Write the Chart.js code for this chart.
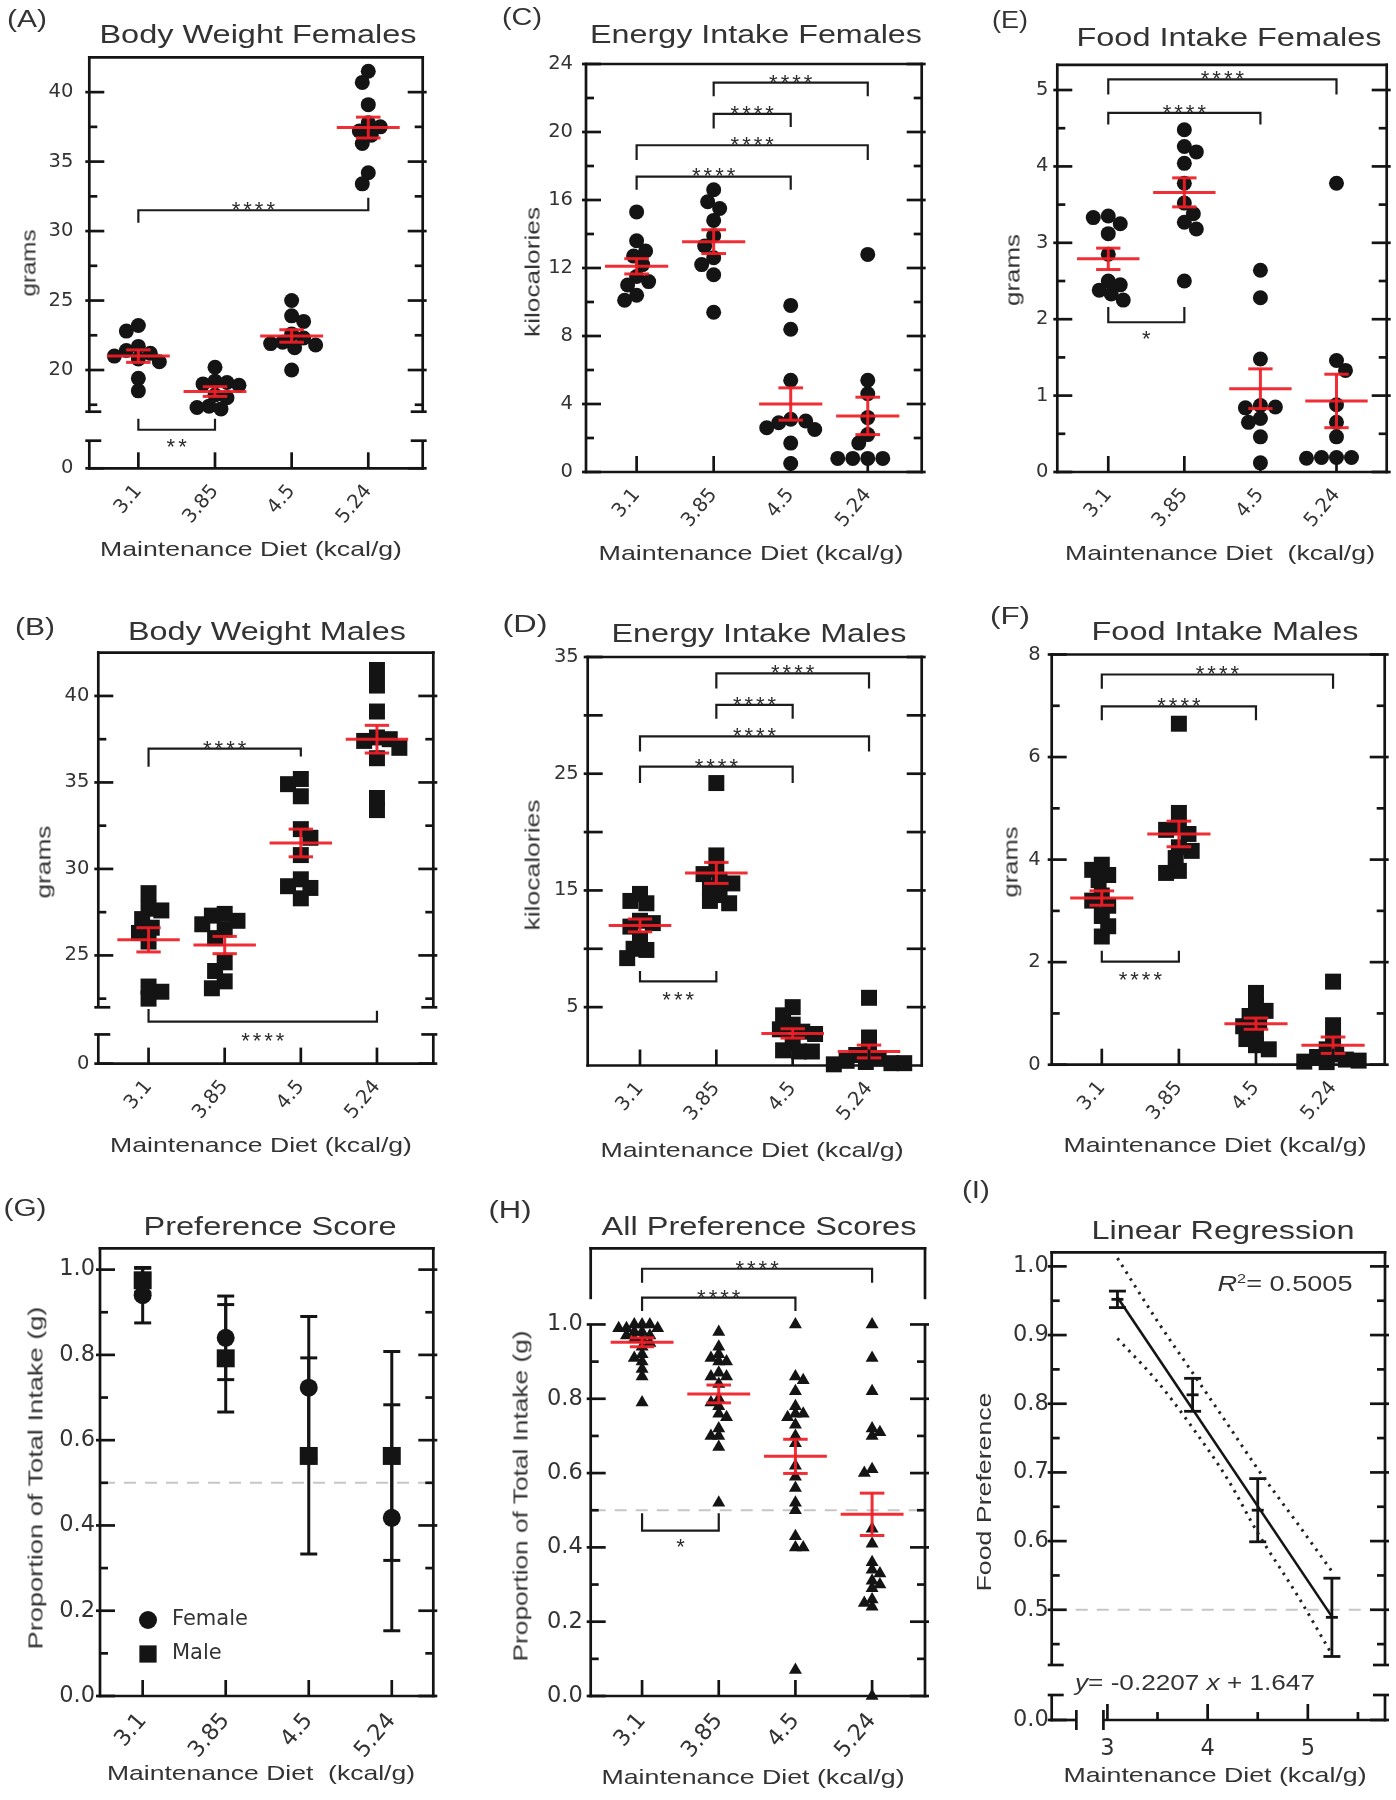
<!DOCTYPE html>
<html>
<head>
<meta charset="utf-8">
<script src="https://cdn.jsdelivr.net/npm/chart.js@4.4.1/dist/chart.umd.min.js"></script>
<style>
html,body{margin:0;padding:0;background:#fff;}
#wrap{position:relative;width:1396px;height:1800px;overflow:hidden;background:#fff;}
#wrap canvas{position:absolute;}
.t{position:absolute;white-space:nowrap;line-height:1;color:#333;font-family:'Liberation Sans',Arial,sans-serif;transform-origin:50% 50%;}
.t sup{font-size:0.6em;vertical-align:0.6em;line-height:0;}
</style>
</head>
<body>
<div id="wrap"></div>
<script>
// ================= DATA =================
const dietLabels = ['3.1', '3.85', '4.5', '5.24'];
const dietKcal = [3.1, 3.85, 4.5, 5.24];

// (A) Body Weight Females (grams)
const bodyWeightFemales = [
  [23.2, 22.8, 21.7, 21.4, 21.2, 21.0, 20.8, 20.6, 19.4, 18.5],
  [20.2, 19.2, 19.1, 19.0, 18.9, 18.2, 18.0, 17.4, 17.3, 17.2],
  [25.0, 23.9, 23.5, 22.6, 22.3, 22.0, 21.9, 21.8, 21.6, 20.0],
  [41.5, 40.7, 39.1, 37.8, 37.5, 37.2, 36.9, 36.3, 34.2, 33.4]
];
const bodyWeightFemalesMean = [21.0, 18.45, 22.45, 37.45];
const bodyWeightFemalesSEM = [0.45, 0.35, 0.45, 0.75];

// (B) Body Weight Males (grams)
const bodyWeightMales = [
  [28.6, 27.7, 27.6, 27.1, 26.6, 26.3, 25.8, 23.2, 22.9, 22.5],
  [27.4, 27.3, 27.0, 26.8, 26.5, 26.0, 24.6, 24.1, 23.5, 23.1],
  [35.2, 34.9, 34.2, 32.3, 31.8, 30.8, 29.4, 29.0, 28.9, 28.3],
  [41.5, 40.6, 39.1, 37.6, 37.5, 37.4, 37.0, 36.4, 34.1, 33.4]
];
const bodyWeightMalesMean = [25.9, 25.6, 31.5, 37.5];
const bodyWeightMalesSEM = [0.7, 0.5, 0.8, 0.8];

// (C) Energy Intake Females (kilocalories)
const energyIntakeFemales = [
  [15.3, 13.6, 13.0, 12.7, 12.2, 11.5, 11.2, 11.0, 10.4, 10.1],
  [16.6, 15.9, 15.5, 14.8, 13.9, 13.3, 12.6, 12.2, 11.6, 9.4],
  [9.8, 8.4, 5.4, 3.1, 3.0, 2.9, 2.6, 2.5, 1.7, 0.5],
  [12.8, 5.4, 4.6, 3.2, 2.2, 1.7, 0.8, 0.8, 0.8, 0.8]
];
const energyIntakeFemalesMean = [12.1, 13.55, 4.0, 3.3];
const energyIntakeFemalesSEM = [0.45, 0.7, 0.95, 1.1];

// (D) Energy Intake Males (kilocalories)
const energyIntakeMales = [
  [14.7, 14.1, 13.9, 12.4, 12.2, 11.9, 10.8, 10.0, 9.9, 9.2],
  [24.2, 18.0, 16.8, 16.4, 15.9, 15.6, 15.2, 14.6, 14.1, 13.9],
  [5.0, 4.3, 3.5, 3.1, 2.9, 2.7, 2.0, 1.3, 1.2, 1.2],
  [5.8, 2.4, 1.2, 0.9, 0.6, 0.4, 0.3, 0.2, 0.2, 0.1]
];
const energyIntakeMalesMean = [12.0, 16.5, 2.75, 1.2];
const energyIntakeMalesSEM = [0.55, 0.9, 0.4, 0.55];

// (E) Food Intake Females (grams)
const foodIntakeFemales = [
  [3.35, 3.33, 3.25, 3.12, 2.85, 2.50, 2.45, 2.38, 2.33, 2.25],
  [4.48, 4.26, 4.19, 4.04, 3.78, 3.52, 3.38, 3.27, 3.18, 2.50],
  [2.64, 2.28, 1.48, 0.87, 0.85, 0.84, 0.70, 0.65, 0.46, 0.12],
  [3.78, 1.46, 1.33, 0.88, 0.65, 0.46, 0.19, 0.19, 0.19, 0.18]
];
const foodIntakeFemalesMean = [2.79, 3.66, 1.09, 0.93];
const foodIntakeFemalesSEM = [0.14, 0.19, 0.26, 0.35];

// (F) Food Intake Males (grams)
const foodIntakeMales = [
  [3.9, 3.8, 3.7, 3.6, 3.3, 3.2, 3.1, 2.9, 2.7, 2.5],
  [6.65, 4.91, 4.63, 4.58, 4.50, 4.24, 4.17, 4.03, 3.78, 3.74],
  [1.40, 1.15, 1.05, 0.95, 0.85, 0.75, 0.62, 0.50, 0.38, 0.30],
  [1.62, 0.77, 0.48, 0.30, 0.20, 0.15, 0.10, 0.08, 0.06, 0.05]
];
const foodIntakeMalesMean = [3.25, 4.5, 0.8, 0.38];
const foodIntakeMalesSEM = [0.14, 0.25, 0.11, 0.16];

// (G) Preference Score, mean and error by sex
const prefFemaleMean = [0.94, 0.84, 0.723, 0.418];
const prefFemaleErr = [0.065, 0.098, 0.167, 0.265];
const prefMaleMean = [0.975, 0.792, 0.563, 0.563];
const prefMaleErr = [0.028, 0.126, 0.23, 0.245];

// (H) All Preference Scores (proportion of total intake)
const allPreference = [
  [1.0, 1.0, 1.0, 0.99, 0.99, 0.99, 0.98, 0.98, 0.97, 0.97, 0.96, 0.96, 0.95, 0.94, 0.92, 0.91, 0.90, 0.88, 0.86, 0.79],
  [0.98, 0.94, 0.92, 0.91, 0.90, 0.90, 0.87, 0.86, 0.86, 0.84, 0.80, 0.79, 0.78, 0.76, 0.75, 0.72, 0.70, 0.70, 0.67, 0.52],
  [1.0, 0.86, 0.85, 0.82, 0.78, 0.76, 0.76, 0.75, 0.73, 0.70, 0.68, 0.62, 0.59, 0.56, 0.52, 0.50, 0.43, 0.40, 0.40, 0.07],
  [1.0, 0.91, 0.82, 0.72, 0.71, 0.70, 0.61, 0.60, 0.45, 0.41, 0.36, 0.34, 0.33, 0.31, 0.30, 0.29, 0.26, 0.25, 0.24, 0.0]
];
const allPreferenceMean = [0.952, 0.813, 0.645, 0.489];
const allPreferenceSEM = [0.012, 0.024, 0.046, 0.057];

// (I) Linear regression (fit line and its dotted confidence band)
const regressionX = [3.1, 5.24];
const regressionY = [0.955, 0.49];
const bandX = [3.1, 3.5, 3.85, 4.2, 4.5, 4.9, 5.24];
const bandUpper = [1.012, 0.92, 0.845, 0.77, 0.705, 0.625, 0.556];
const bandLower = [0.895, 0.832, 0.765, 0.69, 0.612, 0.52, 0.435];

// Tick values
const ticksA = {labels: [20, 25, 30, 35, 40], minor: [17.5, 22.5, 27.5, 32.5, 37.5]};
const ticksB = {labels: [25, 30, 35, 40], minor: [22.5, 27.5, 32.5, 37.5]};
const ticksC = {labels: [0, 4, 8, 12, 16, 20, 24], minor: [2, 6, 10, 14, 18, 22]};
const ticksD = {labels: [5, 15, 25, 35], major: [5, 10, 15, 20, 25, 30, 35], minor: []};
const ticksE = {labels: [0, 1, 2, 3, 4, 5], minor: [0.5, 1.5, 2.5, 3.5, 4.5]};
const ticksF = {labels: [0, 2, 4, 6, 8], minor: [1, 3, 5, 7]};
const ticksGH = {labels: [0, 0.2, 0.4, 0.6, 0.8, 1.0], minor: [0.1, 0.3, 0.5, 0.7, 0.9]};
const ticksI = {labels: [0.5, 0.6, 0.7, 0.8, 0.9, 1.0], minor: [0.45, 0.55, 0.65, 0.75, 0.85, 0.95]};
const ticksIx = {labels: [3, 4, 5], minor: [3.5, 4.5, 5.5]};

// Significance brackets (category from/to, bracket level, leg ends, label)
const bracketsA = [
  {from: 1, to: 4, y: 31.5, l: 30.6, r: 32.4, text: '****'},
  {from: 1, to: 2, y: 15.7, l: 16.5, r: 16.5, text: '**', below: 14.85}
];
const bracketsB = [
  {from: 1, to: 3, y: 36.95, l: 35.9, r: 36.5, text: '****'},
  {from: 1, to: 4, y: 21.17, l: 21.9, r: 21.8, text: '****', below: 20.4}
];
const bracketsC = [
  {from: 2, to: 4, y: 22.9, l: 22.1, r: 22.1, text: '****'},
  {from: 2, to: 3, y: 21.07, l: 20.2, r: 20.3, text: '****'},
  {from: 1, to: 4, y: 19.22, l: 18.35, r: 18.35, text: '****'},
  {from: 1, to: 3, y: 17.38, l: 16.6, r: 16.6, text: '****'}
];
const bracketsD = [
  {from: 2, to: 4, y: 33.6, l: 32.3, r: 32.3, text: '****'},
  {from: 2, to: 3, y: 30.9, l: 29.7, r: 29.7, text: '****'},
  {from: 1, to: 4, y: 28.2, l: 26.9, r: 26.9, text: '****'},
  {from: 1, to: 3, y: 25.6, l: 24.2, r: 24.2, text: '****'},
  {from: 1, to: 2, y: 7.2, l: 8.1, r: 8.1, text: '***', below: 6.1}
];
const bracketsE = [
  {from: 1, to: 4, y: 5.14, l: 4.94, r: 4.94, text: '****'},
  {from: 1, to: 3, y: 4.70, l: 4.55, r: 4.55, text: '****'},
  {from: 1, to: 2, y: 1.96, l: 2.16, r: 2.16, text: '*', below: 1.82}
];
const bracketsF = [
  {from: 1, to: 4, y: 7.61, l: 7.33, r: 7.33, text: '****'},
  {from: 1, to: 3, y: 6.99, l: 6.72, r: 6.72, text: '****'},
  {from: 1, to: 2, y: 2.01, l: 2.22, r: 2.22, text: '****', below: 1.76}
];
const bracketsH = [
  {from: 1, to: 4, y: 1.150, l: 1.112, r: 1.112, text: '****'},
  {from: 1, to: 3, y: 1.072, l: 1.036, r: 1.036, text: '****'},
  {from: 1, to: 2, y: 0.445, l: 0.492, r: 0.492, text: '*', below: 0.416}
];

// ================= STYLE =================
const INK = '#141414';
const TXT = '#333333';
const RED = 'rgba(238,30,38,0.93)';
const GREY = '#c6c6c6';
const LW = 2.7;
const F12 = {family: 'DejaVu Sans', size: 19.5};
const F3 = {family: 'DejaVu Sans', size: 22.5};
const fmtInt = v => String(Math.round(v));
const fmt1 = v => Number(v).toFixed(1);

Chart.defaults.animation = false;

const wrap = document.getElementById('wrap');
const PANELS = {};

function swarmDataset(groups, style, r) {
  return [{
    data: groups.flatMap((g, i) => g.map(v => ({x: i + 1, y: v}))),
    pointStyle: style, pointRadius: r, pointHoverRadius: r,
    pointBackgroundColor: INK, pointBorderColor: INK, pointBorderWidth: 0,
    clip: false
  }];
}

function line(ctx, x1, y1, x2, y2) {
  ctx.beginPath(); ctx.moveTo(x1, y1); ctx.lineTo(x2, y2); ctx.stroke();
}

function drawErr(ctx, xs, ys, eb) {
  ctx.strokeStyle = INK; ctx.lineWidth = eb.lw || 3; ctx.setLineDash([]);
  eb.x.forEach((xv, i) => {
    const px = xs.getPixelForValue(xv);
    const yt = ys.getPixelForValue(eb.mean[i] + eb.err[i]);
    const yb = ys.getPixelForValue(eb.mean[i] - eb.err[i]);
    line(ctx, px, yt, px, yb);
    line(ctx, px - eb.cap, yt, px + eb.cap, yt);
    line(ctx, px - eb.cap, yb, px + eb.cap, yb);
    if (eb.dash) {
      const ym = ys.getPixelForValue(eb.mean[i]);
      line(ctx, px - eb.dash, ym, px + eb.dash, ym);
    }
  });
}

const panelPlugin = {
  id: 'panelPlugin',
  beforeDatasetsDraw(chart) {
    const S = PANELS[chart.canvas.id]; if (!S) return;
    const ctx = chart.ctx, ca = chart.chartArea, xs = chart.scales.x, ys = chart.scales.y;
    ctx.save();
    if (S.refLine != null) {
      const y = ys.getPixelForValue(S.refLine);
      ctx.strokeStyle = GREY; ctx.lineWidth = 2; ctx.setLineDash([12, 9]);
      line(ctx, ca.left + 3, y, ca.right - 3, y);
      ctx.setLineDash([]);
    }
    if (S.errBars) S.errBars.forEach(eb => drawErr(ctx, xs, ys, eb));
    ctx.restore();
  },
  afterDatasetsDraw(chart) {
    const S = PANELS[chart.canvas.id]; if (!S || !S.meanSem) return;
    const ctx = chart.ctx, xs = chart.scales.x, ys = chart.scales.y;
    ctx.save();
    ctx.strokeStyle = RED; ctx.lineWidth = 3; ctx.lineCap = 'butt';
    S.meanSem.mean.forEach((m, i) => {
      const cx = xs.getPixelForValue(i + 1);
      const half = xs.getPixelForValue(i + 1.41) - cx;
      const cap = xs.getPixelForValue(i + 1.16) - cx;
      const ym = ys.getPixelForValue(m);
      const yt = ys.getPixelForValue(m + S.meanSem.sem[i]);
      const yb = ys.getPixelForValue(m - S.meanSem.sem[i]);
      line(ctx, cx - half, ym, cx + half, ym);
      line(ctx, cx, yt, cx, yb);
      line(ctx, cx - cap, yt, cx + cap, yt);
      line(ctx, cx - cap, yb, cx + cap, yb);
    });
    ctx.restore();
  },
  afterDraw(chart) {
    const S = PANELS[chart.canvas.id]; if (!S) return;
    const ctx = chart.ctx, ca = chart.chartArea, xs = chart.scales.x, ys = chart.scales.y;
    const L = ca.left, R = ca.right, T = ca.top, B = ca.bottom, h = LW / 2;
    ctx.save();
    ctx.strokeStyle = INK; ctx.lineWidth = LW; ctx.lineCap = 'butt'; ctx.setLineDash([]);
    // frame: top
    line(ctx, L - h, T, R + h, T);
    // frame: sides (with breaks)
    let vs;
    if (S.yLow) {
      const ub = ys.bottom;
      const lt = chart.scales.yLow.getPixelForValue(S.yLow.frameTop);
      vs = [[T - h, ub, 0, 1], [lt, B + h, 1, 0]];
    } else if (S.hBreak) {
      vs = [[T - h, ys.getPixelForValue(S.hBreak.upperEnd), 0, 0],
            [ys.getPixelForValue(S.hBreak.lowerStart), B + h, 0, 0]];
    } else {
      vs = [[T - h, B + h, 0, 0]];
    }
    vs.forEach(([a, b, capA, capB]) => {
      line(ctx, L, a, L, b); line(ctx, R, a, R, b);
      if (capA) { line(ctx, L - 4, a, L + 12, a); line(ctx, R + 4, a, R - 12, a); }
      if (capB) { line(ctx, L - 4, b, L + 12, b); line(ctx, R + 4, b, R - 12, b); }
    });
    // frame: bottom
    if (S.xBreak) {
      const e = xs.getPixelForValue(S.xBreak.leftEnd), s = xs.getPixelForValue(S.xBreak.rightStart);
      line(ctx, L - h, B, e, B); line(ctx, e, B - 10, e, B + 10);
      line(ctx, s, B, R + h, B); line(ctx, s, B - 10, s, B + 10);
    } else {
      line(ctx, L - h, B, R + h, B);
    }
    // y ticks (inward, both sides)
    const yTick = (sc, majors, minors) => {
      majors.forEach(v => { const y = sc.getPixelForValue(v); line(ctx, L - 4, y, L + 15, y); line(ctx, R + 4, y, R - 15, y); });
      minors.forEach(v => { const y = sc.getPixelForValue(v); line(ctx, L, y, L + 8, y); line(ctx, R, y, R - 8, y); });
    };
    yTick(ys, S.y.major || S.y.labels, S.y.minor || []);
    if (S.yLow) yTick(chart.scales.yLow, S.yLow.labels, []);
    // x ticks (upward)
    S.x.ticks.forEach(v => { const x = xs.getPixelForValue(v); line(ctx, x, B, x, B - 16); });
    (S.x.minor || []).forEach(v => { const x = xs.getPixelForValue(v); line(ctx, x, B, x, B - 8); });
    // significance brackets
    if (S.brackets) {
      ctx.lineWidth = 2.2; ctx.strokeStyle = '#1c1c1c';
      ctx.fillStyle = '#2a2a2a';
      ctx.font = '22px "Liberation Sans"';
      ctx.textAlign = 'center'; ctx.textBaseline = 'alphabetic';
      try { ctx.letterSpacing = '3px'; } catch (e) {}
      S.brackets.forEach(b => {
        const x1 = xs.getPixelForValue(b.from), x2 = xs.getPixelForValue(b.to);
        const y = ys.getPixelForValue(b.y);
        ctx.beginPath();
        ctx.moveTo(x1, ys.getPixelForValue(b.l)); ctx.lineTo(x1, y);
        ctx.lineTo(x2, y); ctx.lineTo(x2, ys.getPixelForValue(b.r));
        ctx.stroke();
        const cy = b.below != null ? ys.getPixelForValue(b.below) : y - 6;
        ctx.fillText(b.text, (x1 + x2) / 2 + 1.5, cy + 12.8);
      });
      try { ctx.letterSpacing = '0px'; } catch (e) {}
    }
    // legend (panel G)
    if (S.legend) {
      ctx.fillStyle = INK; ctx.strokeStyle = INK;
      ctx.font = '21px "DejaVu Sans"'; ctx.textAlign = 'left'; ctx.textBaseline = 'middle';
      S.legend.forEach(it => {
        const mx = L + it.dx, my = B - it.dy;
        Chart.helpers.drawPoint(ctx, {pointStyle: it.style, radius: it.r, borderWidth: 0, rotation: 0}, mx, my);
        ctx.fillStyle = TXT;
        ctx.fillText(it.text, L + it.tx, my);
        ctx.fillStyle = INK;
      });
    }
    ctx.restore();
  }
};

function buildChart(S) {
  const [cx, cy, cw, ch] = S.canvas;
  const p = S.plot;
  const cv = document.createElement('canvas');
  cv.id = S.id; cv.width = cw; cv.height = ch;
  cv.style.left = cx + 'px'; cv.style.top = cy + 'px';
  cv.style.width = cw + 'px'; cv.style.height = ch + 'px';
  wrap.appendChild(cv);
  PANELS[S.id] = S;
  const yW = p.L - cx, xH = cy + ch - p.B;
  const noGrid = {display: false, drawTicks: false};
  const noBorder = {display: false};
  const scales = {
    x: {
      type: 'linear', position: 'bottom', min: S.x.min, max: S.x.max,
      grid: noGrid, border: noBorder,
      afterBuildTicks: s => { s.ticks = S.x.ticks.map(v => ({value: v})); },
      afterFit: s => { s.height = xH; },
      ticks: {
        autoSkip: false, minRotation: S.x.rot, maxRotation: S.x.rot,
        padding: S.x.pad, labelOffset: S.x.off || 0, color: TXT, font: S.font,
        callback: v => S.x.labels ? S.x.labels[Math.round(v) - 1] : String(v)
      }
    },
    y: {
      type: 'linear', position: 'left', min: S.y.min, max: S.y.max,
      grid: noGrid, border: noBorder,
      afterBuildTicks: s => { s.ticks = S.y.labels.map(v => ({value: v})); },
      afterFit: s => { s.width = yW; },
      ticks: {padding: S.y.pad, color: TXT, font: S.font, callback: v => S.y.fmt(v)}
    }
  };
  if (S.yLow) {
    const ub = S.yLow.upperBottom;
    Object.assign(scales.y, {stack: 'ystack', stackWeight: ub - p.T, weight: 2});
    scales.yLow = {
      type: 'linear', position: 'left', min: 0, max: S.yLow.max,
      stack: 'ystack', stackWeight: p.B - ub, weight: 1,
      grid: noGrid, border: noBorder,
      afterBuildTicks: s => { s.ticks = S.yLow.labels.map(v => ({value: v})); },
      afterFit: s => { s.width = yW; },
      ticks: {padding: S.y.pad, color: TXT, font: S.font, callback: v => S.y.fmt(v)}
    };
  }
  const chart = new Chart(cv, {
    type: 'scatter',
    data: {datasets: S.datasets},
    options: {
      responsive: false, maintainAspectRatio: false, animation: false, devicePixelRatio: 1,
      layout: {padding: {left: 0, top: p.T - cy, right: cx + cw - p.R, bottom: 0}},
      plugins: {legend: {display: false}, tooltip: {enabled: false}, title: {display: false}},
      events: [],
      scales
    },
    plugins: [panelPlugin]
  });
  if (S.swarm) applySwarm(chart, S);
  return chart;
}

// beeswarm layout: spreads points of one group sideways so they do not overlap too much
function applySwarm(chart, S) {
  const xs = chart.scales.x, ys = chart.scales.y;
  const D = S.swarm.diam, minD = D * S.swarm.k, step = D * 0.2;
  const out = [];
  S.swarm.groups.forEach((vals, gi) => {
    const cx = xs.getPixelForValue(gi + 1);
    const placed = [];
    vals.forEach((v, vi) => {
      const py = ys.getPixelForValue(v);
      const dir = vi % 2 === 0 ? 1 : -1;
      let off = 0;
      for (let k = 0; k < 400; k++) {
        const cand = k === 0 ? 0 : (k % 2 === 1 ? dir : -dir) * Math.ceil(k / 2) * step;
        const ok = placed.every(q => { const dx = cand - q.o, dy = py - q.y; return dx * dx + dy * dy >= minD * minD; });
        if (ok) { off = cand; break; }
      }
      placed.push({o: off, y: py});
      out.push({x: xs.getValueForPixel(cx + off), y: v});
    });
  });
  chart.data.datasets[0].data = out;
  chart.update('none');
}

// ================= PANELS =================
const specs = [
  { id: 'pA', canvas: [0, 0, 465, 590], plot: {L: 89.3, T: 57.4, R: 422.7, B: 468.3}, font: F12,
    x: {min: 0.36, max: 4.71, ticks: [1, 2, 3, 4], labels: dietLabels, rot: 50, pad: 12},
    y: {min: 17, max: 42.5, labels: ticksA.labels, minor: ticksA.minor, fmt: fmtInt, pad: 16},
    yLow: {max: 2.05, frameTop: 1, labels: [0], upperBottom: 411.7},
    datasets: swarmDataset(bodyWeightFemales, 'circle', 7.5),
    swarm: {groups: bodyWeightFemales, diam: 15, k: 0.8},
    meanSem: {mean: bodyWeightFemalesMean, sem: bodyWeightFemalesSEM}, brackets: bracketsA },
  { id: 'pC', canvas: [465, 0, 480, 590], plot: {L: 586, T: 64, R: 921.7, B: 472}, font: F12,
    x: {min: 0.343, max: 4.70, ticks: [1, 2, 3, 4], labels: dietLabels, rot: 50, pad: 12},
    y: {min: 0, max: 24, labels: ticksC.labels, minor: ticksC.minor, fmt: fmtInt, pad: 13},
    datasets: swarmDataset(energyIntakeFemales, 'circle', 7.5),
    swarm: {groups: energyIntakeFemales, diam: 15, k: 0.82},
    meanSem: {mean: energyIntakeFemalesMean, sem: energyIntakeFemalesSEM}, brackets: bracketsC },
  { id: 'pE', canvas: [945, 0, 451, 590], plot: {L: 1057.3, T: 64.8, R: 1386.7, B: 472}, font: F12,
    x: {min: 0.33, max: 4.66, ticks: [1, 2, 3, 4], labels: dietLabels, rot: 50, pad: 12},
    y: {min: 0, max: 5.33, labels: ticksE.labels, minor: ticksE.minor, fmt: fmtInt, pad: 9},
    datasets: swarmDataset(foodIntakeFemales, 'circle', 7.5),
    swarm: {groups: foodIntakeFemales, diam: 15, k: 0.82},
    meanSem: {mean: foodIntakeFemalesMean, sem: foodIntakeFemalesSEM}, brackets: bracketsE },
  { id: 'pB', canvas: [0, 590, 465, 580], plot: {L: 98.3, T: 652.7, R: 433.3, B: 1063.6}, font: F12,
    x: {min: 0.34, max: 4.74, ticks: [1, 2, 3, 4], labels: dietLabels, rot: 50, pad: 12},
    y: {min: 22, max: 42.5, labels: ticksB.labels, minor: ticksB.minor, fmt: fmtInt, pad: 9},
    yLow: {max: 1.93, frameTop: 1, labels: [0], upperBottom: 1007.3},
    datasets: swarmDataset(bodyWeightMales, 'rect', 11.3),
    swarm: {groups: bodyWeightMales, diam: 16, k: 0.75},
    meanSem: {mean: bodyWeightMalesMean, sem: bodyWeightMalesSEM}, brackets: bracketsB },
  { id: 'pD', canvas: [465, 590, 480, 580], plot: {L: 587.7, T: 657, R: 921.7, B: 1065.5}, font: F12,
    x: {min: 0.315, max: 4.69, ticks: [1, 2, 3, 4], labels: dietLabels, rot: 50, pad: 12},
    y: {min: 0, max: 35, labels: ticksD.labels, major: ticksD.major, minor: ticksD.minor, fmt: fmtInt, pad: 9},
    datasets: swarmDataset(energyIntakeMales, 'rect', 11.3),
    swarm: {groups: energyIntakeMales, diam: 16, k: 0.68},
    meanSem: {mean: energyIntakeMalesMean, sem: energyIntakeMalesSEM}, brackets: bracketsD },
  { id: 'pF', canvas: [945, 590, 451, 580], plot: {L: 1051.7, T: 654.5, R: 1385, B: 1064.7}, font: F12,
    x: {min: 0.35, max: 4.67, ticks: [1, 2, 3, 4], labels: dietLabels, rot: 50, pad: 12},
    y: {min: 0, max: 8, labels: ticksF.labels, minor: ticksF.minor, fmt: fmtInt, pad: 11},
    datasets: swarmDataset(foodIntakeMales, 'rect', 11.3),
    swarm: {groups: foodIntakeMales, diam: 16, k: 0.68},
    meanSem: {mean: foodIntakeMalesMean, sem: foodIntakeMalesSEM}, brackets: bracketsF },
  { id: 'pG', canvas: [0, 1170, 465, 630], plot: {L: 100, T: 1248.3, R: 433.3, B: 1696}, font: F3,
    x: {min: 0.486, max: 4.5, ticks: [1, 2, 3, 4], labels: dietLabels, rot: 50, pad: 12},
    y: {min: 0, max: 1.05, labels: ticksGH.labels, minor: ticksGH.minor, fmt: fmt1, pad: 5},
    datasets: [
      {data: prefFemaleMean.map((v, i) => ({x: i + 1, y: v})), pointStyle: 'circle', pointRadius: 9,
       pointBackgroundColor: INK, pointBorderWidth: 0, clip: false},
      {data: prefMaleMean.map((v, i) => ({x: i + 1, y: v})), pointStyle: 'rect', pointRadius: 12.7,
       pointBackgroundColor: INK, pointBorderWidth: 0, clip: false}
    ],
    errBars: [
      {x: [1, 2, 3, 4], mean: prefFemaleMean, err: prefFemaleErr, cap: 8.5, lw: 3},
      {x: [1, 2, 3, 4], mean: prefMaleMean, err: prefMaleErr, cap: 8.5, lw: 3}
    ],
    refLine: 0.5,
    legend: [
      {style: 'circle', r: 9, text: 'Female', dx: 48, dy: 76, tx: 72},
      {style: 'rect', r: 12.2, text: 'Male', dx: 48, dy: 42, tx: 72}
    ] },
  { id: 'pH', canvas: [465, 1170, 480, 630], plot: {L: 590.7, T: 1248.3, R: 925, B: 1696}, font: F3,
    x: {min: 0.33, max: 4.69, ticks: [1, 2, 3, 4], labels: dietLabels, rot: 50, pad: 12},
    y: {min: 0, max: 1.205, labels: ticksGH.labels, minor: ticksGH.minor, fmt: fmt1, pad: 8},
    hBreak: {upperEnd: 1.068, lowerStart: 1.0},
    datasets: swarmDataset(allPreference, 'triangle', 7.5),
    swarm: {groups: allPreference, diam: 13, k: 0.55},
    meanSem: {mean: allPreferenceMean, sem: allPreferenceSEM}, brackets: bracketsH, refLine: 0.5 },
  { id: 'pI', canvas: [945, 1170, 451, 630], plot: {L: 1051.7, T: 1252.3, R: 1385, B: 1720}, font: F3,
    x: {min: 2.444, max: 5.77, ticks: ticksIx.labels, minor: ticksIx.minor, labels: null, rot: 0, pad: 16},
    y: {min: 0.4196, max: 1.0205, labels: ticksI.labels, minor: ticksI.minor, fmt: fmt1, pad: 3},
    yLow: {max: 2.2, frameTop: 1, labels: [0], upperBottom: 1665},
    xBreak: {leftEnd: 2.69, rightStart: 2.96},
    datasets: [
      {type: 'line', data: regressionX.map((x, i) => ({x, y: regressionY[i]})), borderColor: INK, borderWidth: 2.6, pointRadius: 0},
      {type: 'line', data: bandX.map((x, i) => ({x, y: bandUpper[i]})), borderColor: '#222', borderWidth: 3,
       borderDash: [2.5, 5.5], pointRadius: 0, cubicInterpolationMode: 'monotone'},
      {type: 'line', data: bandX.map((x, i) => ({x, y: bandLower[i]})), borderColor: '#222', borderWidth: 3,
       borderDash: [2.5, 5.5], pointRadius: 0, cubicInterpolationMode: 'monotone'}
    ],
    errBars: [{x: dietKcal, mean: allPreferenceMean, err: allPreferenceSEM, cap: 8.5, lw: 2.8, dash: 6}],
    refLine: 0.5 }
];

specs.forEach(buildChart);

// ================= TEXT (titles, axis titles, panel letters, annotations) =================
const TEXTS = [
  ['(A)', 27, 19, 40, 23, 0],
  ['Body Weight Females', 258, 34, 317, 25, 0],
  ['(C)', 522, 17, 40, 23, 0],
  ['Energy Intake Females', 756, 34, 332, 25, 0],
  ['(E)', 1010, 20, 36, 23, 0],
  ['Food Intake Females', 1229, 37, 305, 25, 0],
  ['grams', 28, 263, 67, 21, 1],
  ['kilocalories', 532, 272, 130, 21, 1],
  ['grams', 1012, 270, 72, 21, 1],
  ['Maintenance Diet (kcal/g)', 251, 548, 302, 21, 0],
  ['Maintenance Diet (kcal/g)', 751, 552, 305, 21, 0],
  ['Maintenance Diet&nbsp; (kcal/g)', 1220, 552, 310, 21, 0],
  ['(B)', 35, 627, 40, 23, 0],
  ['Body Weight Males', 267, 631, 278, 25, 0],
  ['(D)', 525, 624, 45, 23, 0],
  ['Energy Intake Males', 759, 633, 295, 25, 0],
  ['(F)', 1010, 616, 40, 23, 0],
  ['Food Intake Males', 1225, 631, 267, 25, 0],
  ['grams', 43, 862, 73, 21, 1],
  ['kilocalories', 532, 865, 131, 21, 1],
  ['grams', 1010, 862, 71, 21, 1],
  ['Maintenance Diet (kcal/g)', 261, 1144, 302, 21, 0],
  ['Maintenance Diet (kcal/g)', 752, 1149, 303, 21, 0],
  ['Maintenance Diet (kcal/g)', 1215, 1144, 303, 21, 0],
  ['(G)', 25, 1208, 43, 23, 0],
  ['Preference Score', 270, 1226, 253, 25, 0],
  ['(H)', 510, 1210, 43, 23, 0],
  ['All Preference Scores', 759, 1226, 315, 25, 0],
  ['(I)', 976, 1190, 28, 23, 0],
  ['Linear Regression', 1223, 1230, 263, 25, 0],
  ['Proportion of Total Intake (g)', 35, 1478, 343, 21, 1],
  ['Proportion of Total Intake (g)', 520, 1496, 331, 21, 1],
  ['Food Preference', 983, 1492, 199, 21, 1],
  ['Maintenance Diet&nbsp; (kcal/g)', 261, 1772, 308, 21, 0],
  ['Maintenance Diet (kcal/g)', 753, 1776, 303, 21, 0],
  ['Maintenance Diet (kcal/g)', 1215, 1774, 303, 21, 0],
  ['<i>R</i><sup>2</sup>= 0.5005', 1285, 1284, 135, 22, 0],
  ['<i>y</i>= -0.2207 <i>x</i> + 1.647', 1195, 1683, 240, 22, 0]
];

TEXTS.forEach(([html, cx, cy, w, fs, rot]) => {
  const d = document.createElement('div');
  d.className = 't';
  d.innerHTML = html;
  d.style.fontSize = fs + 'px';
  d.style.left = cx + 'px';
  d.style.top = cy + 'px';
  wrap.appendChild(d);
  const nat = d.getBoundingClientRect().width || 1;
  const k = w / nat;
  d.style.transform = 'translate(-50%,-50%)' + (rot ? ' rotate(-90deg)' : '') + ' scaleX(' + k.toFixed(3) + ')';
});
</script>
</body>
</html>
